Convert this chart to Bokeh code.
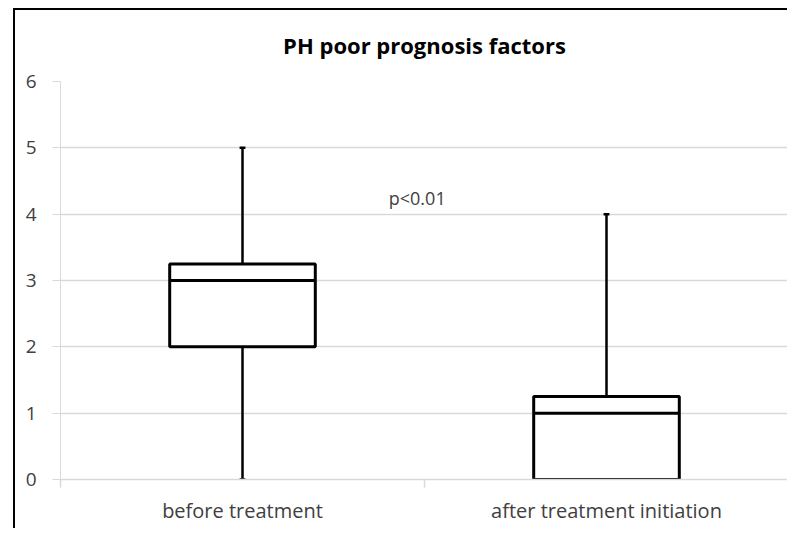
from bokeh.plotting import figure
from bokeh.models import FixedTicker, Label, ColumnDataSource, Range1d
from bokeh.embed import file_html
from bokeh.resources import INLINE

categories = ["before treatment", "after treatment initiation"]
mins = [0, 0]
q1 = [2, 0]
medians = [3, 1]
q3 = [3.25, 1.25]
maxs = [5, 4]
y_ticks = [0, 1, 2, 3, 4, 5, 6]
annotation = "p<0.01"

FONT = "Open Sans"
TXT = "#404040"
GRID = "#d9d9d9"

xs = [i + 0.5 for i in range(len(categories))]
hw = 0.2
cap = 0.008

src = ColumnDataSource(dict(
    x=xs, left=[x - hw for x in xs], right=[x + hw for x in xs],
    capl=[x - cap for x in xs], capr=[x + cap for x in xs],
    mn=mins, q1=q1, med=medians, q3=q3, mx=maxs,
))

p = figure(width=774, height=520, output_backend="svg", toolbar_location=None,
           x_range=Range1d(0, len(categories)), y_range=Range1d(0, 6),
           min_border_left=45, min_border_right=1, min_border_top=71,
           min_border_bottom=51)
p.styles = {"border-top": "2px solid #000", "border-left": "2px solid #000",
            "margin-left": "13px", "margin-top": "8px"}

p.title.text = "PH poor prognosis factors"
p.title.align = "center"
p.title.vertical_align = "top"
p.title.text_font = FONT
p.title.text_font_size = "22px"
p.title.text_font_style = "bold"
p.title.text_color = "#000000"
p.title.standoff = 39

p.outline_line_color = None
p.xgrid.grid_line_color = None
p.ygrid.grid_line_color = GRID
p.ygrid.grid_line_width = 1.5

p.yaxis.ticker = FixedTicker(ticks=y_ticks)
p.yaxis.minor_tick_line_color = None
p.yaxis.axis_line_color = GRID
p.yaxis.major_tick_line_color = GRID
p.yaxis.major_tick_out = 8
p.yaxis.major_tick_in = 0
p.yaxis.major_label_text_font = FONT
p.yaxis.major_label_text_font_size = "19px"
p.yaxis.major_label_text_color = TXT
p.yaxis.major_label_standoff = 16

p.xaxis.ticker = FixedTicker(ticks=xs, minor_ticks=list(range(len(categories) + 1)))
p.xaxis.major_label_overrides = {x: c for x, c in zip(xs, categories)}
p.xaxis.major_tick_line_color = None
p.xaxis.major_tick_out = 8
p.xaxis.minor_tick_line_color = GRID
p.xaxis.minor_tick_out = 8
p.xaxis.minor_tick_in = 0
p.xaxis.axis_line_color = GRID
p.xaxis.axis_line_width = 1.5
p.xaxis.minor_tick_line_width = 1.5
p.xaxis.major_label_text_font = FONT
p.xaxis.major_label_text_font_size = "20px"
p.xaxis.major_label_text_color = TXT
p.xaxis.major_label_standoff = 9

# whiskers
p.segment(x0="x", y0="q3", x1="x", y1="mx", source=src, line_color="black", line_width=2.5)
p.segment(x0="x", y0="mn", x1="x", y1="q1", source=src, line_color="black", line_width=2.5)
p.segment(x0="capl", y0="mx", x1="capr", y1="mx", source=src, line_color="black", line_width=2.5)
p.segment(x0="capl", y0="mn", x1="capr", y1="mn", source=src, line_color="black", line_width=2.5)
# boxes
p.quad(left="left", right="right", bottom="q1", top="q3", source=src,
       fill_color="white", line_color="black", line_width=3)
p.segment(x0="left", y0="med", x1="right", y1="med", source=src, line_color="black", line_width=3)

p.add_layout(Label(x=0.98, y=4.24, text=annotation, text_align="center",
                   text_baseline="middle", text_font=FONT, text_font_size="18px",
                   text_color=TXT))

open("out.html", "w").write(file_html(p, INLINE))
